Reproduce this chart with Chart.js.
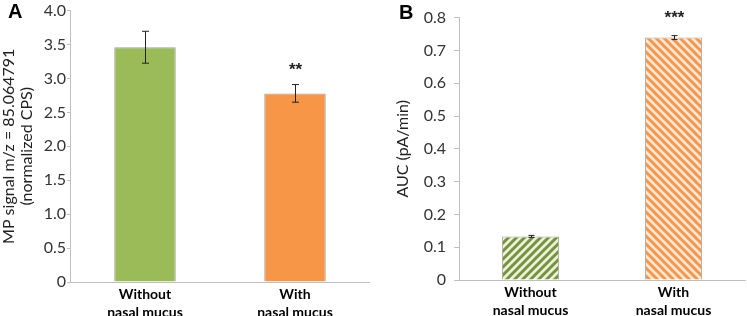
<!DOCTYPE html>
<html>
<head>
<meta charset="utf-8">
<script src="https://cdn.jsdelivr.net/npm/chart.js@4"></script>
<style>
  body { margin: 0; background: #fff; }
  #wrap { position: relative; width: 747px; height: 316px; }
  canvas { position: absolute; top: 0; }
  .panel { position: absolute; font: bold 20px "Liberation Sans", Arial, sans-serif; color: #000; }
</style>
</head>
<body>
<div id="wrap">
  <canvas id="chartA" width="370" height="316" style="left:0"></canvas>
  <canvas id="chartB" width="377" height="316" style="left:370px"></canvas>
  <div class="panel" style="left:8px;top:0px">A</div>
  <div class="panel" style="left:399px;top:1px">B</div>
</div>
<script>
const categories = [['Without', 'nasal mucus'], ['With', 'nasal mucus']];

// panel A: MP signal
const mpSignal = [3.46, 2.78];
const mpError = [0.235, 0.13];
const mpStars = ['', '**'];

// panel B: AUC
const aucValues = [0.133, 0.739];
const aucError = [0.003, 0.006];
const aucStars = ['', '***'];

const tickFont = { family: 'Lato, "Open Sans", sans-serif', size: 16 };
const catFont = { family: 'Lato, "Open Sans", sans-serif', size: 14, weight: 'bold', lineHeight: 1.25 };
const axisGray = '#bfbfbf';

function stripes(bg, fg, dir) {
    const c = document.createElement('canvas');
    c.width = c.height = 8;
    const g = c.getContext('2d');
    g.fillStyle = bg;
    g.fillRect(0, 0, 8, 8);
    g.strokeStyle = fg;
    g.lineWidth = 3;
    g.beginPath();
    if (dir === '/') {
        g.moveTo(-4, 4); g.lineTo(4, -4);
        g.moveTo(0, 8); g.lineTo(8, 0);
        g.moveTo(4, 12); g.lineTo(12, 4);
    } else {
        g.moveTo(-4, 4); g.lineTo(4, 12);
        g.moveTo(0, 0); g.lineTo(8, 8);
        g.moveTo(4, -4); g.lineTo(12, 4);
    }
    g.stroke();
    return g.createPattern(c, 'repeat');
}

// error bars + significance stars
const errorPlugin = {
    id: 'errors',
    afterDatasetsDraw(chart, args, opts) {
        const { ctx } = chart;
        const meta = chart.getDatasetMeta(0);
        const y = chart.scales.y;
        const vals = chart.data.datasets[0].data;
        ctx.save();
        ctx.strokeStyle = '#222';
        ctx.lineWidth = 1;
        meta.data.forEach((bar, i) => {
            const x = Math.round(bar.x) + 0.5;
            const top = y.getPixelForValue(vals[i] + opts.err[i]);
            const bot = y.getPixelForValue(vals[i] - opts.err[i]);
            ctx.beginPath();
            ctx.moveTo(x, top); ctx.lineTo(x, bot);
            ctx.moveTo(x - opts.cap, top); ctx.lineTo(x + opts.cap, top);
            ctx.moveTo(x - opts.cap, bot); ctx.lineTo(x + opts.cap, bot);
            ctx.stroke();
            if (opts.stars[i]) {
                ctx.fillStyle = '#222';
                ctx.font = 'bold 17px "Liberation Sans", Arial, sans-serif';
                ctx.textAlign = 'center';
                ctx.textBaseline = 'middle';
                ctx.fillText(opts.stars[i], x, top - opts.starGap);
            }
        });
        ctx.restore();
    }
};

function makeChart(id, values, bg, border, yMax, step, yTitle, yWidth, xHeight, pad, tickLen, tickPad, bp, titlePad, errOpts) {
    return new Chart(document.getElementById(id).getContext('2d'), {
        type: 'bar',
        data: {
            labels: categories,
            datasets: [{
                data: values,
                backgroundColor: bg,
                borderColor: border,
                borderWidth: 1,
                barPercentage: bp,
                categoryPercentage: 1
            }]
        },
        options: {
            responsive: false,
            animation: false,
            layout: { padding: pad },
            plugins: {
                legend: { display: false },
                tooltip: { enabled: false },
                errors: errOpts
            },
            scales: {
                x: {
                    grid: { drawOnChartArea: false, drawTicks: false },
                    border: { color: axisGray },
                    ticks: { font: catFont, color: '#000', padding: 4 },
                    afterFit(s) { s.height = xHeight; }
                },
                y: {
                    min: 0,
                    max: yMax,
                    grid: { drawOnChartArea: false, drawTicks: true, tickLength: tickLen, color: axisGray },
                    border: { color: axisGray },
                    ticks: {
                        stepSize: step,
                        font: tickFont,
                        color: '#333',
                        padding: tickPad,
                        callback: v => v === 0 ? '0' : v.toFixed(1)
                    },
                    title: {
                        display: true,
                        text: yTitle,
                        font: { family: 'Lato, "Open Sans", sans-serif', size: 16, lineHeight: 1.1 },
                        color: '#222',
                        padding: titlePad
                    },
                    afterFit(s) { s.width = yWidth; }
                }
            }
        },
        plugins: [errorPlugin]
    });
}

makeChart('chartA', mpSignal, ['#9bbb59', '#f79646'], '#a0a0a0', 4, 0.5,
    ['MP signal m/z = 85.064791', '(normalized CPS)'], 70, 34,
    { top: 6, left: 0, right: 0, bottom: 0 }, 3, 1, 0.41, { top: 0, bottom: 0 },
    { err: mpError, stars: mpStars, cap: 3.5, starGap: 14 });

makeChart('chartB', aucValues,
    [stripes('#ebf1de', '#77933c', '/'), stripes('#fde9d9', '#f79646', '\\')],
    '#a6a6a6', 0.8, 0.1, 'AUC (pA/min)', 89, 36,
    { top: 12, left: 0, right: 2, bottom: 0 }, 5, 8, 0.40, { top: 24, bottom: 0 },
    { err: aucError, stars: aucStars, cap: 3, starGap: 17 });
</script>
</body>
</html>
